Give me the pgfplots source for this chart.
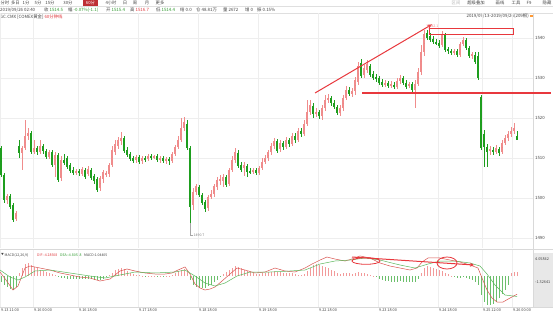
\documentclass[border=0pt]{standalone}
\usepackage{pgfplots}
\pgfplotsset{compat=1.18}
\usepackage{pgfplotstable}
\usepackage{fontspec}
\setmainfont{Noto Sans CJK SC}
\usetikzlibrary{arrows.meta}

\definecolor{upc}{HTML}{F08C8C}
\definecolor{dnc}{HTML}{1E9E1E}
\definecolor{anno}{HTML}{E8383D}
\definecolor{gridc}{HTML}{EEEEEE}
\definecolor{txt}{HTML}{444444}
\definecolor{gtxt}{HTML}{2E9A2E}
\definecolor{rtxt}{HTML}{E0393E}
\definecolor{difc}{HTML}{D9534F}
\definecolor{deac}{HTML}{5CB85C}
\definecolor{hup}{HTML}{F29A9A}
\definecolor{hdn}{HTML}{6CBF6C}

\pgfplotstableread{
x o h l c
1 1512.5 1513 1505.25 1505.75
4 1505.75 1506.25 1498.75 1499.5
7 1499.5 1501 1498.5 1500.5
10 1500.5 1501 1497.25 1497.75
13 1498.25 1498.75 1494 1494.5
16 1494.75 1496.75 1494.25 1496.25
19 1513 1514.5 1510 1511.25
22 1511.25 1513 1507 1512.5
25 1512.5 1519.5 1512 1515.5
28 1515.5 1517.5 1514.5 1516.25
31 1516.25 1516.75 1511 1511.5
34 1511.5 1514.5 1511 1512.5
37 1512.5 1513 1510.75 1511.5
40 1511.5 1514.5 1511 1513
43 1513 1513.5 1511 1511.75
46 1511.75 1512.25 1509.75 1510.25
49 1510.25 1512 1509.75 1511.5
52 1511.5 1512 1507.75 1508.25
55 1508.25 1511.5 1505.25 1510.75
58 1510.75 1511.25 1504 1504.5
61 1505 1510.5 1504.25 1509.5
64 1509.5 1511 1508.25 1508.75
67 1510 1510.5 1507.25 1507.75
70 1508.25 1508.75 1506.25 1506.75
73 1507 1507.75 1505.75 1506.25
76 1506.25 1507.25 1505.75 1506.75
79 1506.75 1507.25 1505.5 1506.25
82 1506 1507.75 1505.5 1507.25
85 1507 1507.5 1504.75 1505.25
88 1506 1508 1505.5 1507.25
91 1507 1507.5 1504.5 1505
94 1505.5 1506 1503.5 1504.25
97 1504.75 1505.25 1501.5 1502
100 1502.5 1505.5 1501.75 1505
103 1504.75 1507 1503.75 1506.5
106 1506 1506.75 1505.25 1506.25
109 1506 1508.75 1505.25 1508.25
112 1508.25 1513 1507.75 1512
115 1511.5 1514.5 1510.75 1513.5
118 1513 1515.25 1512.25 1514.5
121 1514.25 1516.5 1513.25 1515
124 1515 1515.5 1511.25 1511.75
127 1512 1512.75 1510.25 1510.75
130 1511 1511.5 1509.25 1509.75
133 1510 1510.5 1508.75 1509.25
136 1509.5 1510.75 1508.75 1510.25
139 1510.25 1510.75 1508.5 1509
142 1509.25 1510.5 1508.5 1510
145 1510 1510.5 1509 1509.5
148 1509.75 1511 1509.25 1510.5
151 1510.5 1511 1509.5 1510
154 1510.25 1510.75 1509.75 1510.5
157 1510.5 1511 1509 1509.5
160 1509.5 1510.5 1508.75 1510
163 1510 1510.5 1508.75 1509.25
166 1509.25 1510.25 1508.5 1509.75
169 1509.75 1510.25 1508.25 1509.25
172 1509.25 1511.5 1508.75 1511
175 1511 1513.25 1510.5 1512.75
178 1512.75 1515.5 1512.25 1514.5
181 1514.5 1520 1514 1517.5
184 1517.5 1520.25 1516.75 1519
187 1518.5 1519.5 1512 1512.5
190 1512.5 1513 1493.75 1497.75
193 1498.25 1502.5 1497 1501.5
196 1501.5 1503.5 1500.75 1503
199 1502.75 1503.25 1500.25 1500.75
202 1500.75 1501.25 1498.25 1498.75
205 1499 1499.5 1496.5 1497.25
208 1497.5 1500.75 1496.75 1500.25
211 1500.25 1502 1499.75 1501
214 1501 1503.5 1500.25 1503
217 1502.75 1505.25 1502 1504.5
220 1504.5 1505.75 1503.25 1504.75
223 1504.25 1506 1502.75 1505.25
226 1505.25 1505.75 1502.75 1503.25
229 1503.5 1507.5 1503 1507
232 1507 1510.5 1506.5 1509.5
235 1509.5 1512.5 1508.75 1511.5
238 1511.25 1512 1507.5 1508
241 1508.25 1509 1506.5 1507
244 1507.5 1509 1505.5 1508.25
247 1508 1508.5 1505.25 1506.5
250 1506.75 1507.5 1506 1506.5
253 1506.5 1507.5 1506 1507
256 1507 1507.5 1505.75 1506.25
259 1506.25 1508 1505.75 1507.5
262 1507.5 1510 1507 1509
265 1509 1510.75 1508.5 1510
268 1510 1512 1509.25 1511.5
271 1511.5 1513.75 1510.75 1513
274 1513 1515 1512.25 1514.25
277 1514.25 1514.75 1511.25 1511.75
280 1512.25 1514.5 1511.5 1513.75
283 1513.75 1514.25 1512 1512.75
286 1512.75 1515.25 1512.25 1514.5
289 1514.5 1515 1512.75 1513.5
292 1513.5 1516.25 1513 1515.5
295 1515.5 1516.25 1513.75 1514.5
298 1514.5 1517.5 1514 1516.75
301 1516.75 1517.5 1515.25 1516
304 1516 1519.5 1515.5 1518.5
307 1518.5 1524.5 1518 1521.5
310 1521.5 1524.5 1520.75 1523.25
313 1523 1523.75 1520 1521
316 1521 1522.5 1520.25 1521.5
319 1521.5 1522 1519.75 1520.5
322 1520.5 1523.25 1519.5 1522.5
325 1522.5 1525.75 1521.75 1524.5
328 1524.5 1526 1523.75 1525
331 1525 1525.5 1523 1523.75
334 1523.75 1524.5 1522.25 1522.75
337 1522.75 1523.25 1520.75 1521.25
340 1521.25 1523.25 1520.5 1522.5
343 1522.5 1525.75 1521.75 1525
346 1525 1528 1524.5 1527
349 1527 1527.75 1525.5 1526
352 1526 1527.5 1525.25 1526.75
355 1526.75 1530.25 1525.75 1529.5
358 1529 1534 1528.25 1533
361 1533.75 1534.75 1530 1530.5
364 1530.75 1533.25 1530 1532.5
367 1532 1534.5 1531.25 1533.5
370 1533 1533.5 1530.25 1530.75
373 1531 1531.75 1529.5 1530
376 1530.25 1531 1529 1529.75
379 1530 1530.5 1528.25 1528.75
382 1529 1529.75 1527.75 1528.25
385 1528.25 1529.5 1527.75 1528.75
388 1528.75 1529.25 1527.5 1528
391 1528 1529.25 1527.5 1528.5
394 1528.25 1529 1527.25 1527.75
397 1527.75 1530 1527.25 1529.25
400 1529.25 1530.75 1528.5 1530
403 1530 1530.5 1528.25 1528.75
406 1528.75 1529.5 1527.25 1527.75
409 1528 1529 1527.5 1528.5
412 1528.5 1529 1526.5 1527
415 1527 1529.5 1522.5 1528.5
418 1528.5 1532.5 1528 1531.5
421 1531.5 1538.25 1530.75 1536.5
424 1536.5 1542 1535.5 1541
427 1541.25 1542.1 1539.5 1540
430 1540.5 1541.25 1539 1539.5
433 1539.75 1540.5 1538.5 1539
436 1539 1539.75 1538.25 1538.75
439 1538.75 1539.5 1537.5 1538
442 1538.25 1541.75 1537.75 1540.75
445 1540.75 1541.25 1536.5 1537
448 1537.25 1537.75 1536 1536.75
451 1536.75 1537.25 1535.75 1536.25
454 1536.5 1537.25 1535.75 1536.75
457 1536.75 1537.25 1535.25 1535.75
460 1535.75 1539 1535.25 1538.5
463 1538.5 1540.25 1538 1539.5
466 1539.5 1540 1537 1537.5
469 1537.5 1538 1535 1535.5
472 1535.5 1536.5 1534.75 1536
475 1535.75 1536.5 1533.5 1534
478 1535.5 1536.5 1529.5 1530
481 1525.25 1525.75 1512 1512.5
484 1516 1517 1507.75 1512.75
487 1512.75 1513.5 1507.75 1511.5
490 1511.75 1513 1510.75 1512.25
493 1512 1512.75 1510.75 1511.5
496 1511.5 1513.25 1511 1512.5
499 1512.25 1512.75 1510.5 1511.25
502 1511.5 1514.5 1511 1513.75
505 1513.75 1515.75 1513.25 1515
508 1515 1516.75 1514.25 1516
511 1516 1517.75 1515.25 1516.75
514 1516.75 1518.75 1516 1517.5
517 1515.4 1516.7 1514.4 1514.5
}\candles

\pgfplotstableread{
x m
1 -1.5
4 -2.2
7 -2.6
10 -3.1
13 -3.3
16 -2.6
19 0.8
22 2.0
25 2.9
28 3.1
31 2.6
34 2.2
37 1.8
40 1.5
43 1.2
46 1.0
49 0.8
52 0.5
55 0.3
58 -0.2
61 -0.4
64 -0.5
67 -0.6
70 -0.7
73 -0.7
76 -0.8
79 -0.8
82 -0.7
85 -0.8
88 -0.7
91 -0.8
94 -0.9
97 -1.0
100 -0.9
103 -0.6
106 -0.3
109 0.2
112 0.8
115 1.3
118 1.6
121 1.8
124 1.6
127 1.2
130 0.8
133 0.5
136 0.3
139 0.2
142 0.1
145 -0.1
148 0.1
151 0.1
154 0.05
157 -0.1
160 0.05
163 -0.1
166 0.05
169 0.05
172 0.3
175 0.7
178 1.1
181 1.5
184 1.6
187 1.0
190 -1.0
193 -2.0
196 -2.5
199 -2.8
202 -2.9
205 -2.8
208 -2.4
211 -2.0
214 -1.5
217 -0.9
220 -0.3
223 0.4
226 0.9
229 1.4
232 2.0
235 2.3
238 2.1
241 1.8
244 1.5
247 1.2
250 0.9
253 0.7
256 0.5
259 0.5
262 0.6
265 0.7
268 0.9
271 1.0
274 1.1
277 1.0
280 0.9
283 0.8
286 0.8
289 0.7
292 0.6
295 0.4
298 0.3
301 0.3
304 0.5
307 1.2
310 2.0
313 2.5
316 2.8
319 2.6
322 2.3
325 2.1
328 1.9
331 1.5
334 1.1
337 0.7
340 0.5
343 0.6
346 0.8
349 0.7
352 0.5
355 0.6
358 0.9
361 0.8
364 0.6
367 0.5
370 0.3
373 0.1
376 -0.3
379 -0.6
382 -0.9
385 -1.1
388 -1.2
391 -1.3
394 -1.4
397 -1.3
400 -1.2
403 -1.3
406 -1.4
409 -1.4
412 -1.5
415 -1.3
418 -0.6
421 0.6
424 1.8
427 2.3
430 2.2
433 1.9
436 1.6
439 1.3
442 1.2
445 0.8
448 0.4
451 0.1
454 -0.2
457 -0.5
460 -0.4
463 -0.3
466 -0.5
469 -0.8
472 -1.0
475 -1.3
478 -2.2
481 -4.5
484 -6.0
487 -6.8
490 -6.8
493 -6.5
496 -6.0
499 -5.2
502 -4.2
505 -3.2
508 -2.0
511 0.6
514 0.9
517 1.0
}\macdh

\pgfplotstableread{
x v
0 0.94
6 -0.94
13 -3.29
18 -2.35
25 1.88
30 2.35
40 1.88
50 1.41
60 0.71
70 0.24
80 -0.24
90 -0.47
100 -1.18
110 -0.71
120 1.18
127 1.65
135 1.18
145 0.71
155 0.47
165 0.47
172 0.71
178 1.41
185 2.12
190 0.47
195 -1.88
200 -2.82
205 -3.29
210 -3.06
215 -2.59
222 -1.18
230 0.47
237 1.88
245 1.41
255 0.71
265 0.94
275 1.88
285 1.18
295 0.94
305 1.88
312 2.82
320 3.76
327 4.47
335 4.0
345 3.53
352 4.0
360 4.71
370 4.24
380 3.06
390 2.35
400 1.88
410 1.41
417 1.88
422 3.29
428 4.24
440 4.24
450 3.76
460 3.29
470 2.59
478 1.88
482 -0.47
487 -3.29
492 -5.18
497 -6.12
503 -6.12
510 -5.18
517 -4.29
}\difdata

\pgfplotstableread{
x v
0 1.41
10 -0.24
18 -0.94
25 -0.24
35 1.18
50 1.41
70 0.71
90 0
105 -0.47
120 0.24
135 0.94
155 0.71
175 0.94
185 1.41
195 0
205 -1.65
215 -2.35
225 -1.65
237 0
250 0.94
270 0.94
290 1.18
305 1.41
320 2.82
335 3.53
350 3.76
365 4.24
380 3.76
400 2.59
415 1.88
428 2.82
440 3.53
455 3.53
470 3.06
480 2.35
487 0.47
495 -2.12
505 -4.47
517 -4.81
}\deadata

\newcommand{\fs}[1]{\fontsize{#1}{#1}\selectfont}

\begin{document}
\begin{tikzpicture}
\useasboundingbox (0pt,0pt) rectangle (553pt,315pt);
\fill[white] (0pt,0pt) rectangle (553pt,315pt);
% header separators
\draw[gray!25, line width=0.4pt] (0pt,308.5pt) -- (553pt,308.5pt);
\draw[gray!25, line width=0.4pt] (0pt,302pt) -- (553pt,302pt);
% toolbar
\fill[rtxt!85!black] (83pt,308.5pt) rectangle (98pt,315pt);
\begin{scope}[every node/.style={inner sep=0pt, font=\fs{4.3}, text=txt}]
\node at (5pt,311.7pt) {分时};
\node at (15.5pt,311.7pt) {多日};
\node at (26pt,311.7pt) {1分};
\node at (38pt,311.7pt) {5分};
\node at (50pt,311.7pt) {15分};
\node at (68pt,311.7pt) {30分};
\node[text=white] at (90.5pt,311.7pt) {60分};
\node at (111pt,311.7pt) {4小时};
\node at (125pt,311.7pt) {日};
\node at (135pt,311.7pt) {周};
\node at (147pt,311.7pt) {月};
\node at (160pt,311.7pt) {更多};
\node[text=gray!60] at (456pt,311.7pt) {区间};
\node at (476pt,311.7pt) {超级叠加};
\node at (500pt,311.7pt) {画线};
\node at (516pt,311.7pt) {工具};
\node at (529pt,311.7pt) {F9};
\node at (547pt,311.7pt) {隐藏};
\end{scope}
% info line
\begin{scope}[every node/.style={inner sep=0pt, anchor=west, font=\fs{4.4}, text=txt}]
\node at (0pt,305.2pt) {2019/09/26 02:40};
\node at (44pt,305.2pt) {收 \textcolor{gtxt}{1514.5}};
\node at (68pt,305.2pt) {幅 \textcolor{gtxt}{-0.07\%(-1.1)}};
\node at (106pt,305.2pt) {开 \textcolor{gtxt}{1515.4}};
\node at (130pt,305.2pt) {高 \textcolor{rtxt}{1516.7}};
\node at (156pt,305.2pt) {低 \textcolor{gtxt}{1514.4}};
\node at (180pt,305.2pt) {结 0.0};
\node at (196pt,305.2pt) {仓 48.81万};
\node at (223pt,305.2pt) {量 2672};
\node at (245pt,305.2pt) {增 0};
\node at (257pt,305.2pt) {振 0.15\%};
\node at (0pt,298.3pt) {GC.CMX [COMEX黄金] \textcolor{rtxt}{60分钟线}};
\node[anchor=east] at (529pt,299pt) {2019/09/13-2019/09/26(209根)};
\end{scope}
\fill[orange!80] (530pt,297.8pt) rectangle (532.5pt,300.3pt);
% panel frames
\fill[gray!18] (533pt,8pt) rectangle (553pt,62pt);
\draw[gray!30, line width=0.4pt] (533pt,8pt) -- (533pt,302pt);
\draw[gray!30, line width=0.4pt] (0pt,66pt) -- (553pt,66pt);
\draw[gray!30, line width=0.4pt] (0pt,8pt) -- (553pt,8pt);
% MACD legend
\begin{scope}[every node/.style={inner sep=0pt, anchor=west, font=\fs{3.5}, text=txt}]
\node at (1pt,60pt) {\fs{2.8}▼};
\node at (4.5pt,60pt) {MACD(12,26,9)};
\node[text=rtxt] at (37pt,60pt) {DIF:-4.28508};
\node[text=gtxt] at (60pt,60pt) {DEA:-4.80538};
\node at (84pt,60pt) {MACD:1.04405};
\end{scope}

\begin{axis}[
  at={(0pt,67pt)}, anchor=south west, scale only axis,
  width=533pt, height=235pt,
  xmin=0, xmax=533, ymin=1487.5, ymax=1546.25,
  axis line style={draw=none}, tick style={draw=none},
  xtick={0,33,78,138,198,258,318,378,438,482,512}, xticklabels={},
  ytick={1490,1500,1510,1520,1530,1540},
  yticklabels={1490,1500,1510,1520,1530,1540},
  yticklabel pos=right,
  yticklabel style={font=\fs{4.3}, text=txt, anchor=west, inner sep=0pt, xshift=2pt},
  xmajorgrids, ymajorgrids, grid style={gridc, line width=0.4pt},
  clip=false,
  cndl/.style={only marks, mark=*, mark size=0pt, mark options={draw=none, fill=none}, forget plot},
]
% up candles
\addplot[cndl,
  restrict expr to domain={\thisrow{c}-\thisrow{o}}{0:1000},
  error bars/.cd, y dir=both, y explicit, error mark=none,
  error bar style={upc, line width=0.45pt}]
  table[x=x, y expr={(\thisrow{h}+\thisrow{l})/2}, y error expr={(\thisrow{h}-\thisrow{l})/2}] {\candles};
\addplot[cndl,
  restrict expr to domain={\thisrow{c}-\thisrow{o}}{0:1000},
  error bars/.cd, y dir=both, y explicit, error mark=none,
  error bar style={upc, line width=1.8pt}]
  table[x=x, y expr={(\thisrow{o}+\thisrow{c})/2}, y error expr={max(abs(\thisrow{c}-\thisrow{o})/2,0.12)}] {\candles};
% down candles
\addplot[cndl,
  restrict expr to domain={\thisrow{c}-\thisrow{o}}{-1000:-0.001},
  error bars/.cd, y dir=both, y explicit, error mark=none,
  error bar style={dnc, line width=0.45pt}]
  table[x=x, y expr={(\thisrow{h}+\thisrow{l})/2}, y error expr={(\thisrow{h}-\thisrow{l})/2}] {\candles};
\addplot[cndl,
  restrict expr to domain={\thisrow{c}-\thisrow{o}}{-1000:-0.001},
  error bars/.cd, y dir=both, y explicit, error mark=none,
  error bar style={dnc, line width=1.8pt}]
  table[x=x, y expr={(\thisrow{o}+\thisrow{c})/2}, y error expr={max(abs(\thisrow{c}-\thisrow{o})/2,0.12)}] {\candles};
% annotations
\draw[anno, line width=1pt, -{Stealth[length=5pt,width=4.5pt]}] (axis cs:315,1526.25) -- (axis cs:432,1543.4);
\draw[anno, line width=0.7pt] (axis cs:429,1541.0) rectangle (axis cs:513,1542.3);
\draw[anno, line width=1.9pt] (axis cs:362,1526.25) -- (axis cs:551,1526.25);
\node[inner sep=0pt, anchor=south, font=\fs{3.5}, text=rtxt!60] at (axis cs:433,1542.5) {1542.1};
\draw[gray!70, line width=0.3pt] (axis cs:190,1493.75) -- (axis cs:190,1490.7) -- (axis cs:193,1490.7);
\node[inner sep=0pt, anchor=west, font=\fs{3.5}, text=gray] at (axis cs:193.5,1490.7) {1490.7};
\end{axis}

\begin{axis}[
  at={(0pt,8pt)}, anchor=south west, scale only axis,
  width=533pt, height=57pt,
  xmin=0, xmax=533, ymin=-7.29, ymax=6.12,
  axis line style={draw=none}, tick style={draw=none},
  xtick={0,33,78,138,198,258,318,378,438,482,512},
  xticklabels={9.13 11:00,9.16 00:00,9.16 18:00,9.17 18:00,9.18 18:00,9.19 18:00,9.22 18:00,9.23 18:00,9.24 18:00,9.25 12:00,9.26 00:00},
  xticklabel style={font=\fs{3.8}, text=txt, anchor=north west, inner sep=0pt, yshift=-1.5pt, xshift=1pt},
  ytick={-1.32641,4.05842}, yticklabels={-1.32641,4.05842},
  yticklabel pos=right,
  yticklabel style={font=\fs{3.8}, text=txt, anchor=west, inner sep=0pt, xshift=2pt},
  xmajorgrids, grid style={gridc, line width=0.4pt},
  clip=false,
]
\addplot[ycomb, hup, line width=0.5pt, mark=none, restrict y to domain=0:100] table[x=x, y=m] {\macdh};
\addplot[ycomb, hdn, line width=0.5pt, mark=none, restrict y to domain=-100:0] table[x=x, y=m] {\macdh};
\addplot[difc, line width=0.5pt, mark=none] table[x=x, y=v] {\difdata};
\addplot[deac, line width=0.5pt, mark=none] table[x=x, y=v] {\deadata};
\draw[anno, line width=0.8pt] (axis cs:366,3.53) ellipse [x radius=14pt, y radius=3.3pt];
\draw[anno, line width=0.8pt] (axis cs:447,3.06) ellipse [x radius=10pt, y radius=6pt];
\draw[anno, line width=1pt, -{Stealth[length=4pt,width=4pt]}] (axis cs:352,4.47) -- (axis cs:474,2.59);
\end{axis}
\end{tikzpicture}
\end{document}
